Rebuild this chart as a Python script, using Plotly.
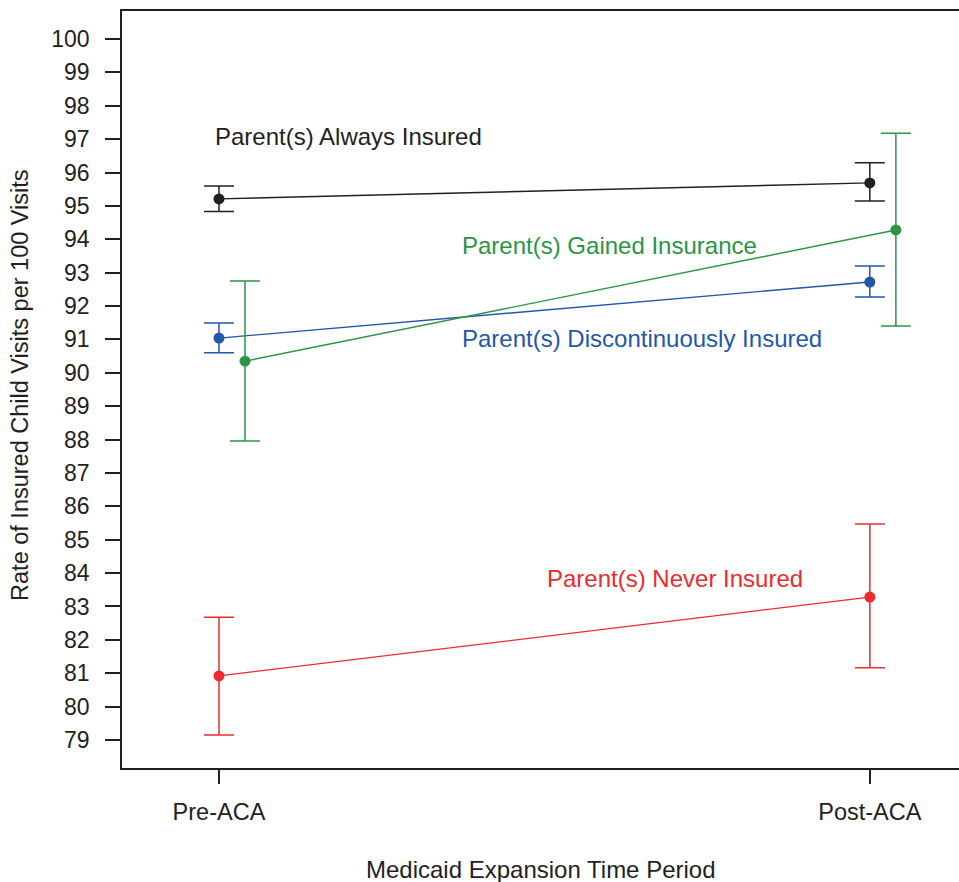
import plotly.graph_objects as go

periods = ["Pre-ACA", "Post-ACA"]
period_pos = [1, 2]
series_names = ["Parent(s) Always Insured", "Parent(s) Discontinuously Insured",
                "Parent(s) Gained Insurance", "Parent(s) Never Insured"]
always = [95.21, 95.69]
always_lo = [94.83, 95.15]
always_hi = [95.60, 96.29]
discont = [91.04, 92.72]
discont_lo = [90.60, 92.27]
discont_hi = [91.49, 93.20]
gained = [90.35, 94.28]
gained_lo = [87.96, 91.40]
gained_hi = [92.75, 97.18]
never = [80.92, 83.28]
never_lo = [79.15, 81.16]
never_hi = [82.68, 85.47]
y_ticks = list(range(79, 101))

colors = ["#231f20", "#1f57a9", "#2b9445", "#ee2a2e"]
offsets = [0.0, 0.0, 0.04, 0.0]
vals = [always, discont, gained, never]
los = [always_lo, discont_lo, gained_lo, never_lo]
his = [always_hi, discont_hi, gained_hi, never_hi]

fig = go.Figure()
for name, v, lo, hi, c, off in zip(series_names, vals, los, his, colors, offsets):
    fig.add_trace(go.Scatter(
        x=[p + off for p in period_pos], y=v, name=name, mode="lines+markers",
        line=dict(color=c, width=1.4),
        marker=dict(color=c, size=11),
        error_y=dict(type="data", symmetric=False,
                     array=[h - m for h, m in zip(hi, v)],
                     arrayminus=[m - l for m, l in zip(v, lo)],
                     color=c, thickness=1.5, width=15),
        showlegend=False))

labels = [
    (0.991, 97.07, series_names[0], colors[0]),
    (1.370, 93.80, series_names[2], colors[2]),
    (1.370, 91.04, series_names[1], colors[1]),
    (1.501, 83.85, series_names[3], colors[3]),
]
for x, y, t, c in labels:
    fig.add_annotation(x=x, y=y, text=t, showarrow=False, xanchor="left",
                       yanchor="middle", font=dict(size=24, color=c))

# axis titles
fig.add_annotation(xref="paper", yref="paper", x=0.5, y=-0.1347,
                   text="Medicaid Expansion Time Period", showarrow=False,
                   xanchor="center", yanchor="middle", font=dict(size=24))
fig.add_annotation(xref="paper", yref="paper", x=-0.1219, y=0.506,
                   text="Rate of Insured Child Visits per 100 Visits", showarrow=False,
                   textangle=-90, xanchor="center", yanchor="middle",
                   font=dict(size=23.5))

font_family = "Liberation Sans, Arial, sans-serif"
fig.update_layout(
    width=959, height=882,
    margin=dict(l=122, r=0, t=11, b=114),
    paper_bgcolor="white", plot_bgcolor="white",
    font=dict(family=font_family, color="#231f20"),
    xaxis=dict(range=[0.851, 2.137], tickvals=period_pos, ticktext=periods,
               showgrid=False, zeroline=False, showline=True, mirror=True,
               linecolor="#231f20", linewidth=1.5, ticks="outside", ticklen=14,
               tickwidth=1.5, tickcolor="#231f20", tickfont=dict(size=23.5),
               ticklabelstandoff=8, automargin=False),
    yaxis=dict(range=[78.16, 100.84], tickvals=y_ticks,
               showgrid=False, zeroline=False, showline=True, mirror=False,
               linecolor="#231f20", linewidth=1.5, ticks="outside", ticklen=15,
               tickwidth=1.5, tickcolor="#231f20", tickfont=dict(size=23),
               ticklabelstandoff=11, automargin=False),
)

fig.write_html(
    "out.html",
    config={"displayModeBar": False},
    post_script="document.body.style.margin='0';document.body.style.overflow='hidden';",
)
